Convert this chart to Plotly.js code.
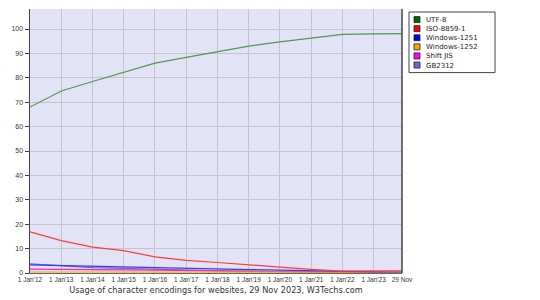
<!DOCTYPE html>
<html><head><meta charset="utf-8">
<script src="https://cdn.plot.ly/plotly-3.0.1.min.js"></script>
<style>body{margin:0;background:#fff}#c{width:540px;height:300px}</style>
</head><body><div id="c"></div>
<script>
const dates = ['2012-01-01','2013-01-01','2014-01-01','2015-01-01','2016-01-01','2017-01-01','2018-01-01','2019-01-01','2020-01-01','2021-01-01','2022-01-01','2023-01-01','2023-11-29'];
const tickLabels = ["1 Jan'12","1 Jan'13","1 Jan'14","1 Jan'15","1 Jan'16","1 Jan'17","1 Jan'18","1 Jan'19","1 Jan'20","1 Jan'21","1 Jan'22","1 Jan'23","29 Nov"];
const seriesNames = ['UTF-8','ISO-8859-1','Windows-1251','Windows-1252','Shift JIS','GB2312'];
const utf8 = [68.0, 74.6, 78.5, 82.1, 86.0, 88.4, 90.6, 93.0, 94.7, 96.1, 97.8, 98.0, 98.1];
const iso88591 = [16.9, 13.3, 10.6, 9.2, 6.6, 5.2, 4.3, 3.5, 2.4, 1.5, 0.8, 0.9, 0.9];
const win1251 = [3.3, 3.0, 2.7, 2.3, 2.1, 1.9, 1.6, 1.4, 1.2, 0.9, 0.6, 0.5, 0.4];
const win1252 = [0.4, 0.4, 0.4, 0.4, 0.4, 0.4, 0.5, 0.5, 0.5, 0.5, 0.3, 0.3, 0.3];
const shiftJis = [1.6, 1.4, 1.4, 1.3, 1.2, 1.0, 0.9, 0.7, 0.5, 0.4, 0.3, 0.2, 0.2];
const gb2312 = [3.7, 2.8, 2.2, 1.9, 1.5, 1.2, 0.9, 0.7, 0.5, 0.3, 0.2, 0.1, 0.1];
const yTicks = [0,10,20,30,40,50,60,70,80,90,100];

const values = [utf8, iso88591, win1251, win1252, shiftJis, gb2312];
const lineColors = ['#4f9a4f','#ff3c3c','#3a3af0','#ffa500','#ff20c0','#6a6ad0'];
const swatchColors = ['#006400','#ff0000','#0000ff','#ffa500','#ff00ff','#6a6acd'];

// plot area in pixels (style only)
const L = 30, R = 402, T = 9, B = 273;
const px = x => (x - L) / (R - L);
const py = y => 1 - (y - T) / (B - T);

const traces = [];
for (let i = values.length - 1; i >= 0; i--) {
  traces.push({x: dates, y: values[i], mode: 'lines', name: seriesNames[i], showlegend: false,
    line: {color: lineColors[i], width: 1.2}, hoverinfo: 'skip'});
}

const legFont = 7, lineH = legFont * 1.3, legTop = 15;
const legBottom = legTop + lineH * seriesNames.length + 3;
const shapes = [
  {type: 'line', xref: 'paper', yref: 'paper', x0: 1, x1: 1, y0: 0, y1: 1, line: {color: '#444', width: 1.5}},
  {type: 'rect', xref: 'paper', yref: 'paper', x0: px(409), x1: px(495), y0: py(12), y1: py(legBottom),
    fillcolor: '#fff', line: {color: '#444', width: 1}}
];
seriesNames.forEach((name, i) => {
  const yc = legTop + lineH * (i + 0.5);
  shapes.push({type: 'rect', xref: 'paper', yref: 'paper', x0: px(414), x1: px(420), y0: py(yc - 3), y1: py(yc + 3),
    fillcolor: swatchColors[i], line: {color: '#222', width: 0.8}});
});
const annotations = [{xref: 'paper', yref: 'paper', x: px(425), y: py(legTop), xanchor: 'left', yanchor: 'top', align: 'left',
  text: seriesNames.join('<br>'), showarrow: false, borderpad: 0,
  font: {size: legFont, color: '#222', family: 'DejaVu Sans, Verdana, sans-serif'}}];

const layout = {
  width: 540, height: 300,
  margin: {l: L, r: 540 - R, t: T, b: 300 - B},
  paper_bgcolor: '#ffffff', plot_bgcolor: '#e3e3f7',
  font: {family: 'DejaVu Sans, Verdana, sans-serif', color: '#333', size: 8},
  showlegend: false,
  xaxis: {type: 'date', range: ['2012-01-01','2023-11-29'], tickvals: dates, ticktext: tickLabels, tickangle: 0,
    tickfont: {size: 6.5, color: '#333', family: 'Liberation Sans, Arial, sans-serif'}, showgrid: true, gridcolor: '#c4c4cc', gridwidth: 1,
    showline: true, linecolor: '#666', linewidth: 1, ticks: '', zeroline: false,
    title: {text: 'Usage of character encodings for websites, 29 Nov 2023, W3Techs.com', font: {size: 8.2, color: '#333'}, standoff: 5}},
  yaxis: {range: [0, 108.2], tickvals: yTicks, tickfont: {size: 7, color: '#333', family: 'Liberation Sans, Arial, sans-serif'},
    showgrid: true, gridcolor: '#c4c4cc', gridwidth: 1, showline: true, linecolor: '#444', linewidth: 1.5,
    ticks: 'outside', ticklen: 4, tickcolor: '#444', zeroline: false},
  shapes: shapes,
  annotations: annotations
};
Plotly.newPlot('c', traces, layout, {staticPlot: true, displayModeBar: false});
</script></body></html>
